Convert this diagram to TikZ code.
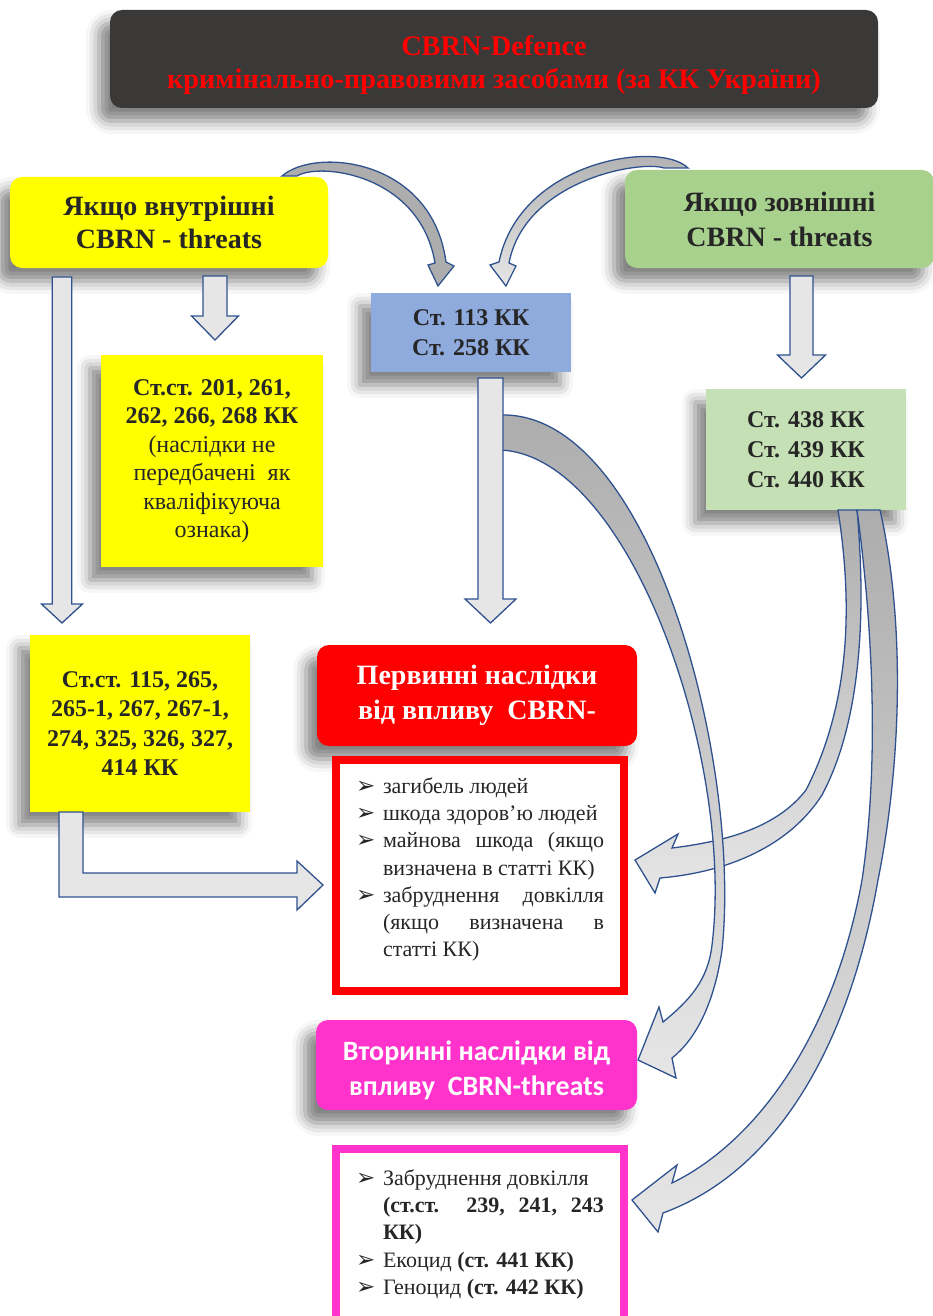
\documentclass[tikz,border=0pt]{standalone}
\usepackage{fontspec}
\setmainfont{Liberation Serif}
\newfontfamily\calfont{Carlito}
\newfontfamily\dingfont{DejaVu Sans}
\usepackage{xcolor}
\usepackage{tikz}
\usetikzlibrary{positioning,calc,shadows.blur}

\definecolor{titlegray}{HTML}{3B3838}
\definecolor{inkgray}{HTML}{262626}
\definecolor{boxyellow}{HTML}{FFFF00}
\definecolor{boxgreen}{HTML}{A9D18E}
\definecolor{boxlgreen}{HTML}{C5E0B4}
\definecolor{boxblue}{HTML}{8FAADC}
\definecolor{boxred}{HTML}{FF0000}
\definecolor{boxpink}{HTML}{FF33CC}
\definecolor{arrowblue}{HTML}{2F528F}
\definecolor{arrowgray}{HTML}{E6E6E6}
\definecolor{arrowdark}{HTML}{ADADAD}

\newcommand{\bitem}{\par\noindent\hangindent=27pt\hangafter=1%
  \makebox[27pt][l]{\dingfont\fontsize{23}{23}\selectfont ➢}}
\newcommand{\downblock}[5]{% top, tip, shaft half width, head half width, head length
  \draw[blockarrow] let \p1=(#1), \p2=(#2) in
    (\x1-#3pt,\y1) -- (\x1+#3pt,\y1) -- (\x1+#3pt,\y2+#5pt) -- (\x1+#4pt,\y2+#5pt)
    -- (\x1,\y2) -- (\x1-#4pt,\y2+#5pt) -- (\x1-#3pt,\y2+#5pt) -- cycle;}

\begin{document}
\begin{tikzpicture}[x=1pt, y=-1pt,
    box/.style={align=center, inner sep=0pt, text=inkgray,
        blur shadow={shadow xshift=-11pt, shadow yshift=-13pt, shadow blur radius=13pt, shadow opacity=50}},
    roundbox/.style={box, rounded corners=12pt},
    frame/.style={draw, line width=8pt, fill=white, inner sep=0pt},
    listtext/.style={text width=248pt, align=justify, inner sep=0pt, text=inkgray,
        font=\fontsize{22}{27.2}\selectfont},
    blockarrow/.style={draw=arrowblue, fill=arrowgray, line width=1.3pt, line join=miter},
    curvearrow/.style={blockarrow, top color=arrowdark, bottom color=arrowgray}
]
    \useasboundingbox (0,0) rectangle (932,1316);

    % boxes
    \node[roundbox, fill=titlegray, text=boxred, minimum width=768pt, minimum height=98pt,
        font=\bfseries\fontsize{28.3}{33}\selectfont] (title) at (494,59)
        {\rule{0pt}{32pt}CBRN-Defence\\кримінально-правовими засобами (за КК України)};
    \node[roundbox, fill=boxyellow, minimum width=318pt, minimum height=91pt,
        font=\bfseries\fontsize{28}{33}\selectfont] (intl) at (169,222.5)
        {Якщо внутрішні\\CBRN - threats};
    \node[roundbox, fill=boxgreen, minimum width=309pt, minimum height=98pt,
        font=\bfseries\fontsize{28}{35}\selectfont] (extl) at (779.5,219)
        {Якщо зовнішні\\CBRN - threats};
    \node[box, fill=boxblue, minimum width=200pt, minimum height=79pt,
        font=\bfseries\fontsize{24}{30}\selectfont] (art113) at (471,332.5)
        {Ст. 113 КК\\Ст. 258 КК};
    \node[box, fill=boxyellow, minimum width=222pt, minimum height=212pt,
        font=\fontsize{24}{28.5}\selectfont] (art201) at (212,461)
        {\textbf{Ст.ст. 201, 261,}\\\textbf{262, 266, 268 КК}\\(наслідки не\\передбачені\ \ як\\кваліфікуюча\\ознака)};
    \node[box, fill=boxlgreen, minimum width=200pt, minimum height=121pt,
        font=\bfseries\fontsize{24}{30}\selectfont] (art438) at (806,449.5)
        {Ст. 438 КК\\Ст. 439 КК\\Ст. 440 КК};
    \node[box, fill=boxyellow, minimum width=220pt, minimum height=177pt,
        font=\bfseries\fontsize{24}{29.5}\selectfont] (art115) at (140,723.5)
        {Ст.ст. 115, 265,\\265-1, 267, 267-1,\\274, 325, 326, 327,\\414 КК};
    \node[roundbox, fill=boxred, text=white, minimum width=320pt, minimum height=101pt,
        font=\bfseries\fontsize{28}{35}\selectfont] (prim) at (477,695.5)
        {Первинні наслідки\\від впливу\ \ CBRN-};
    \node[roundbox, fill=boxpink, text=white, minimum width=321pt, minimum height=90pt,
        font=\calfont\bfseries\fontsize{28}{35}\selectfont] (sec) at (476.5,1065)
        {\rule{0pt}{31pt}Вторинні наслідки від\\впливу\ \ CBRN-threats};

    % lists
    \node[frame, draw=boxred, minimum width=288pt, minimum height=231pt] (primlist) at (480,875.5) {};
    \node[listtext, below=10pt of primlist.north] (primtext) {%
        \bitem загибель людей
        \bitem шкода здоров’ю людей
        \bitem майнова шкода (якщо\linebreak визначена в статті КК)
        \bitem забруднення довкілля\linebreak (якщо визначена в\linebreak статті КК)\par};
    \node[frame, draw=boxpink, minimum width=288pt, minimum height=200pt] (seclist) at (480,1249) {};
    \node[listtext, below=13pt of seclist.north] (sectext) {%
        \bitem Забруднення довкілля\newline \textbf{(ст.ст. 239, 241, 243\linebreak КК)}
        \bitem Екоцид \textbf{(ст. 441 КК)}
        \bitem Геноцид \textbf{(ст. 442 КК)}\par};

    % curved arrows
    \draw[blockarrow, fill=arrowdark] (282,176) .. controls (315,147) and (432,158) .. (446,262)
        -- (454,266) -- (438,286) -- (428,265) -- (435,263)
        .. controls (420,174) and (320,162) .. (297,176) -- cycle;
    \draw[curvearrow] (688,168) .. controls (660,140) and (520,160) .. (499,262)
        -- (490,265) -- (506,286) -- (516,266) -- (509,263)
        .. controls (525,180) and (640,160) .. (664,168) -- cycle;
    \draw[curvearrow] (838,510) .. controls (852,600) and (852,700) .. (806,790)
        .. controls (775,830) and (720,842) .. (672,848)
        -- (678,834) -- (635,860) -- (655,893) -- (660,878)
        .. controls (730,872) and (790,845) .. (822,795)
        .. controls (862,720) and (866,610) .. (857,510) -- cycle;
    \draw[curvearrow] (857,510) .. controls (872,620) and (880,760) .. (862,880)
        .. controls (835,1030) and (760,1140) .. (672,1183)
        -- (677,1165) -- (632,1200) -- (658,1232) -- (663,1213)
        .. controls (780,1170) and (850,1040) .. (878,880)
        .. controls (902,760) and (905,620) .. (880,510) -- cycle;
    \draw[curvearrow] (500,415) .. controls (650,410) and (742,760) .. (722,950)
        .. controls (714,1005) and (695,1040) .. (672,1058)
        -- (676,1078) -- (638,1060) -- (659,1007) -- (663,1022)
        .. controls (690,1000) and (708,980) .. (712,945)
        .. controls (735,760) and (630,455) .. (500,450) -- cycle;

    % straight arrows
    \coordinate (a1s) at (62,277);    \coordinate (a1e) at (62,623);
    \coordinate (a2s) at (215,276);   \coordinate (a2e) at (215,340);
    \coordinate (a3s) at (801.5,276); \coordinate (a3e) at (801.5,378);
    \coordinate (a4s) at (490.5,378); \coordinate (a4e) at (490.5,623);
    \downblock{a1s}{a1e}{9.75}{20.5}{19}
    \downblock{a2s}{a2e}{12}{23.5}{24}
    \downblock{a3s}{a3e}{11.5}{24}{23}
    \downblock{a4s}{a4e}{12.5}{25.5}{24}
    \draw[blockarrow] (59,812) -- (83,812) -- (83,873) -- (297,873) -- (297,861)
        -- (323,885) -- (297,910) -- (297,897) -- (59,897) -- cycle;
\end{tikzpicture}
\end{document}
